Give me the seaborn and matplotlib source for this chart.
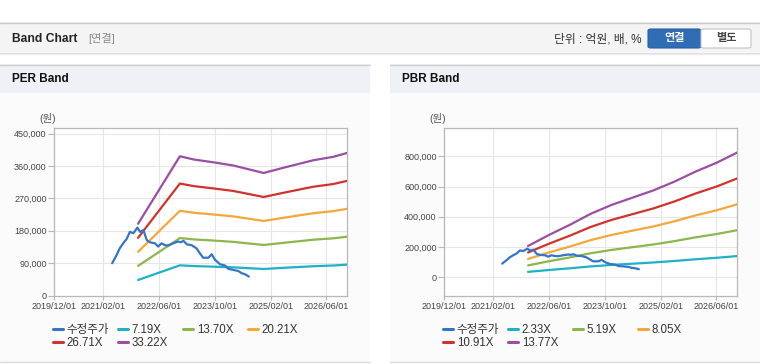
import numpy as np
import pandas as pd
import matplotlib
matplotlib.use("Agg")
import matplotlib.pyplot as plt
from matplotlib.patches import Rectangle, FancyBboxPatch
from matplotlib.lines import Line2D
from matplotlib.ticker import FuncFormatter
import seaborn as sns

# ---------------- data ----------------
price_dates = ["2021-04-19", "2021-05-28", "2021-06-24", "2021-07-24", "2021-08-23",
               "2021-09-21", "2021-10-21", "2021-11-24", "2021-12-19", "2022-01-16",
               "2022-02-15", "2022-03-13", "2022-04-28", "2022-05-25", "2022-06-24",
               "2022-07-22", "2022-08-22", "2022-10-03", "2022-11-16", "2022-12-10",
               "2023-01-01", "2023-02-01", "2023-03-13", "2023-04-25", "2023-05-25",
               "2023-06-22", "2023-08-07", "2023-09-04", "2023-10-04", "2023-11-16",
               "2024-01-01", "2024-01-28", "2024-03-13", "2024-04-25", "2024-05-22",
               "2024-06-22", "2024-07-25"]
price_values = [89700, 112700, 131000, 145000, 157000,
                177000, 173000, 188600, 177000, 182000,
                154000, 148000, 145000, 136000, 145000,
                140000, 139000, 145000, 150000, 148000,
                152000, 142000, 140000, 131000, 117000,
                105000, 105000, 114600, 99000, 87000,
                83000, 74000, 71000, 68000, 62000,
                59000, 52700]

per_dates = ["2021-12-01", "2022-12-01", "2023-04-01", "2023-09-15", "2024-03-10",
             "2024-12-01", "2025-05-20", "2025-10-15", "2026-02-10", "2026-08-01",
             "2026-12-01"]
per_719 = [43100, 83800, 81800, 80200, 78200, 73700, 76800, 79400, 81400, 83400, 85800]
per_1370 = [82200, 159600, 155900, 152800, 149100, 140400, 146300, 151200, 155100, 158900, 163400]
per_2021 = [121300, 235400, 230000, 225300, 219900, 207200, 215800, 223100, 228800, 234400, 241100]
per_2671 = [160300, 311200, 304000, 297800, 290600, 273800, 285300, 294900, 302400, 309800, 318700]
per_3322 = [199300, 387000, 378000, 370400, 361400, 340500, 354800, 366700, 376100, 385400, 396300]
per_labels = ["7.19X", "13.70X", "20.21X", "26.71X", "33.22X"]

pbr_dates = ["2021-12-01", "2022-06-01", "2022-12-01", "2023-06-01", "2023-12-01",
             "2024-06-01", "2024-12-01", "2025-06-01", "2025-12-01", "2026-06-01",
             "2026-12-01"]
pbr_233 = [35000, 47300, 58700, 71100, 81100, 89200, 97400, 107200, 118400, 128200, 139800]
pbr_519 = [77900, 105400, 130800, 158300, 180600, 198800, 216900, 238700, 263700, 285500, 311400]
pbr_805 = [120800, 163400, 202900, 245500, 280100, 308300, 336500, 370300, 408900, 442800, 483000]
pbr_1091 = [163700, 221500, 274900, 332800, 379700, 417900, 456000, 501900, 554200, 600100, 654600]
pbr_1377 = [206600, 279500, 347000, 420000, 479200, 527400, 575600, 633400, 699500, 757400, 826200]
pbr_labels = ["2.33X", "5.19X", "8.05X", "10.91X", "13.77X"]

price_label = "수정주가"
x_tick_dates = ["2019-12-01", "2021-02-01", "2022-06-01", "2023-10-01", "2025-02-01", "2026-06-01"]
x_tick_labels = ["2019/12/01", "2021/02/01", "2022/06/01", "2023/10/01", "2025/02/01", "2026/06/01"]
per_yticks = [0, 90000, 180000, 270000, 360000, 450000]
pbr_yticks = [0, 200000, 400000, 600000, 800000]

colors = ["#3575c6", "#1fb1c5", "#8db64c", "#f4a73a", "#d1332c", "#9a4fa2"]

# ---------------- style ----------------
sns.set_theme(style="white")
plt.rcParams['font.family'] = ['Liberation Sans', 'Noto Sans CJK KR']

W, H = 760, 364
fig = plt.figure(figsize=(W / 100, H / 100), dpi=100)
fig.patch.set_facecolor("white")


def fx(x):
    return x / W


def fy(y):
    return 1 - y / H


def rect(x0, y0, x1, y1, fc, ec="none", lw=0):
    fig.patches.append(Rectangle((fx(x0), fy(y1)), fx(x1) - fx(x0), fy(y0) - fy(y1),
                                 transform=fig.transFigure, facecolor=fc, edgecolor=ec,
                                 linewidth=lw, zorder=-10))


def hline(x0, x1, y, c, lw=1.0):
    fig.lines.append(Line2D([fx(x0), fx(x1)], [fy(y), fy(y)], transform=fig.transFigure,
                            color=c, linewidth=lw, zorder=-5))


# top header
rect(0, 22, 760, 52, "#f4f4f4")
hline(0, 760, 22.5, "#c8c8c8", 1.0)
hline(0, 760, 52.5, "#dcdcdc", 1.0)
hline(0, 760, 53.5, "#ececec", 1.0)
fig.text(fx(12), fy(39), "Band Chart", fontsize=8.7, fontweight="bold", color="#222222",
         va="center", ha="left")
fig.text(fx(88), fy(39), "[연결]", fontsize=8, color="#8a8a8a", va="center", ha="left")
fig.text(fx(642), fy(39), "단위 : 억원, 배, %", fontsize=8.5, color="#333333",
         va="center", ha="right")
fig.patches.append(FancyBboxPatch((fx(648), fy(48)), fx(701) - fx(648), fy(29) - fy(48),
                                  boxstyle="round,pad=0,rounding_size=0.004",
                                  transform=fig.transFigure, facecolor="#2f6db5",
                                  edgecolor="#2a62a3", linewidth=0.8, zorder=-4))
fig.patches.append(FancyBboxPatch((fx(701), fy(48)), fx(751) - fx(701), fy(29) - fy(48),
                                  boxstyle="round,pad=0,rounding_size=0.004",
                                  transform=fig.transFigure, facecolor="white",
                                  edgecolor="#c4c4c4", linewidth=0.8, zorder=-4))
fig.text(fx(674.5), fy(38.5), "연결", fontsize=8, fontweight="bold", color="white",
         va="center", ha="center")
fig.text(fx(726), fy(38.5), "별도", fontsize=8, fontweight="bold", color="#444444",
         va="center", ha="center")

# panels
panels = [(0, 370, "PER Band"), (390, 760, "PBR Band")]
for x0, x1, title in panels:
    rect(x0, 93, x1, 362, "#fbfbfb")
    rect(x0, 64, x1, 93, "#eef1f6")
    hline(x0, x1, 64.5, "#d0d0d0", 1.0)
    hline(x0, x1, 361.5, "#dcdcdc", 1.0)
    fig.text(fx(x0 + 12), fy(79), title, fontsize=8.5, fontweight="bold", color="#111111",
             va="center", ha="left")
    fig.text(fx(x0 + 48), fy(119), "(원)", fontsize=7.5, color="#555555",
             va="center", ha="center")

ax_l = fig.add_axes([fx(54.3), fy(295.5), (347.3 - 54.3) / W, (295.5 - 128.3) / H])
ax_r = fig.add_axes([fx(444.3), fy(295.5), (737.3 - 444.3) / W, (295.5 - 128.3) / H])
for a in (ax_l, ax_r):
    a.set_zorder(10)

fmt = FuncFormatter(lambda v, p: f"{int(round(v)):,}")


def draw(ax, band_dates, bands, ylim, yticks):
    bd = pd.to_datetime(band_dates)
    for vals, c in zip(bands, colors[1:]):
        sns.lineplot(x=bd, y=vals, ax=ax, color=c, linewidth=1.6, legend=False,
                     errorbar=None, zorder=3)
    sns.lineplot(x=pd.to_datetime(price_dates), y=price_values, ax=ax, color=colors[0],
                 linewidth=1.6, legend=False, errorbar=None, zorder=4)
    ax.set_facecolor("white")
    ax.set_xlim(pd.Timestamp("2019-12-01"), pd.Timestamp("2026-12-01"))
    ax.set_ylim(*ylim)
    ax.set_xticks(pd.to_datetime(x_tick_dates))
    ax.set_xticklabels(x_tick_labels)
    ax.set_yticks(yticks)
    ax.yaxis.set_major_formatter(fmt)
    ax.grid(True, color="#e6e6e6", linewidth=0.8)
    ax.set_axisbelow(True)
    for s in ax.spines.values():
        s.set_color("#b8b8b8")
        s.set_linewidth(0.9)
    ax.tick_params(axis="x", which="both", bottom=True, length=3, width=0.8, color="#b8b8b8",
                   labelsize=6.5, labelcolor="#444444", pad=2)
    ax.tick_params(axis="y", which="both", left=True, length=4, width=0.8, color="#b8b8b8",
                   labelsize=6.5, labelcolor="#444444", pad=1.5)
    ax.set_xlabel("")
    ax.set_ylabel("")


draw(ax_l, per_dates, [per_719, per_1370, per_2021, per_2671, per_3322],
     (0, 464700), per_yticks)
draw(ax_r, pbr_dates, [pbr_233, pbr_519, pbr_805, pbr_1091, pbr_1377],
     (-121700, 986700), pbr_yticks)

# legends
slots = [(53, 330), (118, 330), (183, 330), (248, 330), (53, 343.5), (118, 343.5)]
for off, labels in [(0, per_labels), (390, pbr_labels)]:
    all_labels = [price_label] + labels
    for (x, y), lab, c in zip(slots, all_labels, colors):
        h = Line2D([], [], color=c, linewidth=2.2)
        fig.legend(handles=[h], labels=[lab], loc="center left",
                   bbox_to_anchor=(fx(x + off), fy(y)), frameon=False, fontsize=8.3,
                   handlelength=0.9, handletextpad=0.3, borderpad=0, borderaxespad=0,
                   labelcolor="#333333")

fig.savefig("out.png", dpi=100)
